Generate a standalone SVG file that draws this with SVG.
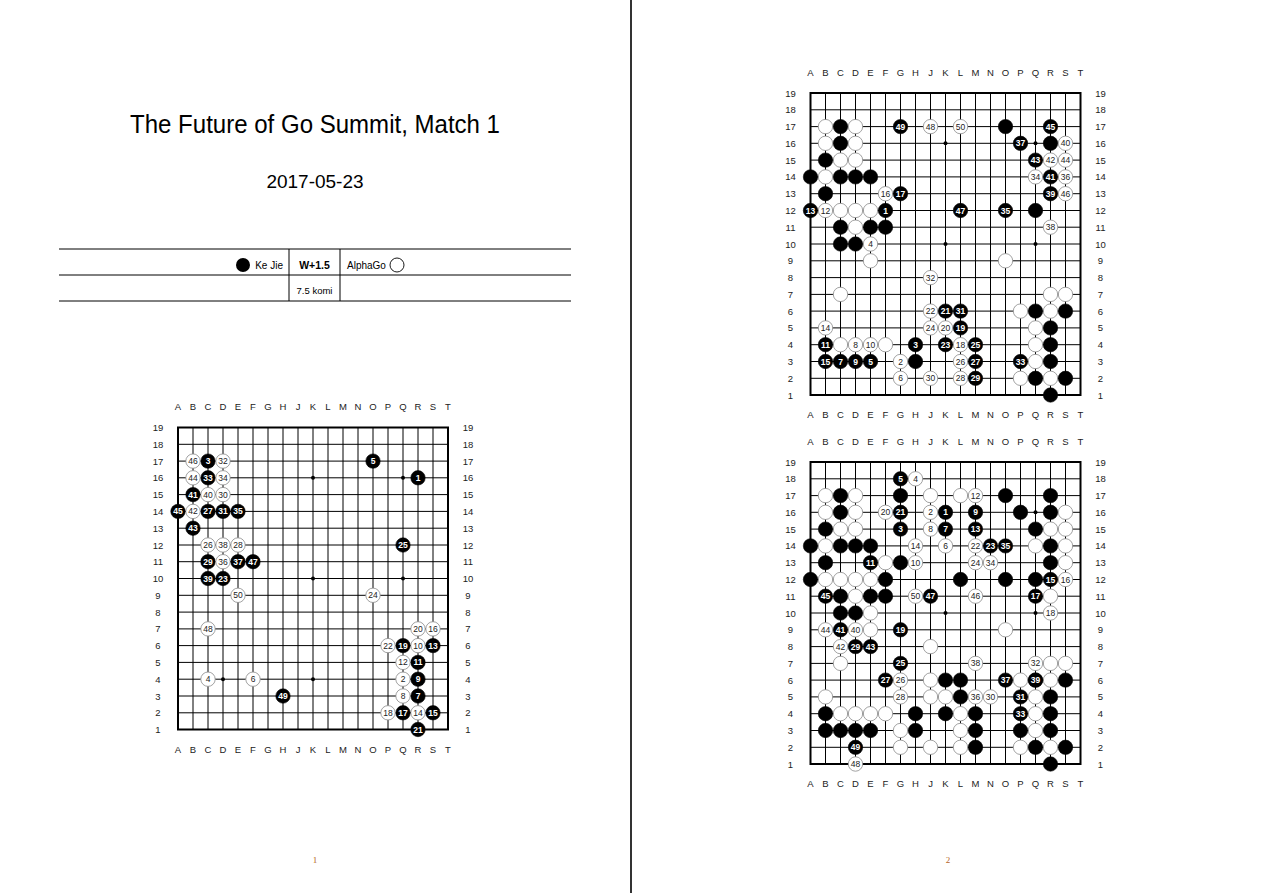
<svg xmlns="http://www.w3.org/2000/svg" xmlns:xlink="http://www.w3.org/1999/xlink" width="1265" height="893" viewBox="0 0 1265 893">
<style>
.bk{fill:#000;stroke:#000;stroke-width:0.6}
.wh{fill:#fff;stroke:#8a8a8a;stroke-width:0.8}
.gl{fill:none;stroke:#000;stroke-width:1}
.bd{fill:none;stroke:#000;stroke-width:2}
.lab{font-family:"Liberation Sans",Arial,sans-serif;font-size:9.5px;fill:#222;text-anchor:middle;dominant-baseline:central}
.nb{font-family:"Liberation Sans",Arial,sans-serif;font-size:8.5px;font-weight:bold;fill:#fff;text-anchor:middle;dominant-baseline:central}
.nw{font-family:"Liberation Sans",Arial,sans-serif;font-size:8.5px;fill:#222;text-anchor:middle;dominant-baseline:central}
.tx{font-family:"Liberation Sans",Arial,sans-serif;fill:#000}
.pg{font-family:"Liberation Serif",serif;font-size:9px;fill:#b5651d;text-anchor:middle}
</style>
<defs>
<circle id="B" r="7.2" class="bk"/>
<circle id="W" r="7.2" class="wh"/>
<g id="grid">
<path class="gl" d="M15 0V302M30 0V302M45 0V302M60 0V302M75 0V302M90 0V302M105 0V302M120 0V302M135 0V302M150 0V302M165 0V302M180 0V302M195 0V302M210 0V302M225 0V302M240 0V302M255 0V302M0 16.8H270M0 33.6H270M0 50.3H270M0 67.1H270M0 83.9H270M0 100.7H270M0 117.5H270M0 134.2H270M0 151H270M0 167.8H270M0 184.6H270M0 201.4H270M0 218.1H270M0 234.9H270M0 251.7H270M0 268.5H270M0 285.3H270"/>
<rect class="bd" x="0" y="0" width="270" height="302"/>
<g fill="#000">
<circle cx="45" cy="50.3" r="2"/><circle cx="135" cy="50.3" r="2"/><circle cx="225" cy="50.3" r="2"/>
<circle cx="45" cy="151" r="2"/><circle cx="135" cy="151" r="2"/><circle cx="225" cy="151" r="2"/>
<circle cx="45" cy="251.7" r="2"/><circle cx="135" cy="251.7" r="2"/><circle cx="225" cy="251.7" r="2"/>
</g>
<g class="lab">
<text x="0" y="-21">A</text><text x="15" y="-21">B</text><text x="30" y="-21">C</text><text x="45" y="-21">D</text><text x="60" y="-21">E</text><text x="75" y="-21">F</text><text x="90" y="-21">G</text><text x="105" y="-21">H</text><text x="120" y="-21">J</text><text x="135" y="-21">K</text><text x="150" y="-21">L</text><text x="165" y="-21">M</text><text x="180" y="-21">N</text><text x="195" y="-21">O</text><text x="210" y="-21">P</text><text x="225" y="-21">Q</text><text x="240" y="-21">R</text><text x="255" y="-21">S</text><text x="270" y="-21">T</text>
<text x="0" y="321.5">A</text><text x="15" y="321.5">B</text><text x="30" y="321.5">C</text><text x="45" y="321.5">D</text><text x="60" y="321.5">E</text><text x="75" y="321.5">F</text><text x="90" y="321.5">G</text><text x="105" y="321.5">H</text><text x="120" y="321.5">J</text><text x="135" y="321.5">K</text><text x="150" y="321.5">L</text><text x="165" y="321.5">M</text><text x="180" y="321.5">N</text><text x="195" y="321.5">O</text><text x="210" y="321.5">P</text><text x="225" y="321.5">Q</text><text x="240" y="321.5">R</text><text x="255" y="321.5">S</text><text x="270" y="321.5">T</text>
<text x="-20" y="0">19</text><text x="-20" y="16.8">18</text><text x="-20" y="33.6">17</text><text x="-20" y="50.3">16</text><text x="-20" y="67.1">15</text><text x="-20" y="83.9">14</text><text x="-20" y="100.7">13</text><text x="-20" y="117.5">12</text><text x="-20" y="134.2">11</text><text x="-20" y="151">10</text><text x="-20" y="167.8">9</text><text x="-20" y="184.6">8</text><text x="-20" y="201.4">7</text><text x="-20" y="218.1">6</text><text x="-20" y="234.9">5</text><text x="-20" y="251.7">4</text><text x="-20" y="268.5">3</text><text x="-20" y="285.3">2</text><text x="-20" y="302">1</text>
<text x="290" y="0">19</text><text x="290" y="16.8">18</text><text x="290" y="33.6">17</text><text x="290" y="50.3">16</text><text x="290" y="67.1">15</text><text x="290" y="83.9">14</text><text x="290" y="100.7">13</text><text x="290" y="117.5">12</text><text x="290" y="134.2">11</text><text x="290" y="151">10</text><text x="290" y="167.8">9</text><text x="290" y="184.6">8</text><text x="290" y="201.4">7</text><text x="290" y="218.1">6</text><text x="290" y="234.9">5</text><text x="290" y="251.7">4</text><text x="290" y="268.5">3</text><text x="290" y="285.3">2</text><text x="290" y="302">1</text>
</g>
</g>
<g id="m1">
<use href="#B" x="240" y="50.3"/><use href="#W" x="225" y="251.7"/><use href="#B" x="30" y="33.6"/><use href="#W" x="30" y="251.7"/><use href="#B" x="195" y="33.6"/><use href="#W" x="75" y="251.7"/><use href="#B" x="240" y="268.5"/><use href="#W" x="225" y="268.5"/><use href="#B" x="240" y="251.7"/><use href="#W" x="240" y="218.1"/>
<use href="#B" x="240" y="234.9"/><use href="#W" x="225" y="234.9"/><use href="#B" x="255" y="218.1"/><use href="#W" x="240" y="285.3"/><use href="#B" x="255" y="285.3"/><use href="#W" x="255" y="201.4"/><use href="#B" x="225" y="285.3"/><use href="#W" x="210" y="285.3"/><use href="#B" x="225" y="218.1"/><use href="#W" x="240" y="201.4"/>
<use href="#B" x="240" y="302"/><use href="#W" x="210" y="218.1"/><use href="#B" x="45" y="151"/><use href="#W" x="195" y="167.8"/><use href="#B" x="225" y="117.5"/><use href="#W" x="30" y="117.5"/><use href="#B" x="30" y="83.9"/><use href="#W" x="60" y="117.5"/><use href="#B" x="30" y="134.2"/><use href="#W" x="45" y="67.1"/>
<use href="#B" x="45" y="83.9"/><use href="#W" x="45" y="33.6"/><use href="#B" x="30" y="50.3"/><use href="#W" x="45" y="50.3"/><use href="#B" x="60" y="83.9"/><use href="#W" x="45" y="134.2"/><use href="#B" x="60" y="134.2"/><use href="#W" x="45" y="117.5"/><use href="#B" x="30" y="151"/><use href="#W" x="30" y="67.1"/>
<use href="#B" x="15" y="67.1"/><use href="#W" x="15" y="83.9"/><use href="#B" x="15" y="100.7"/><use href="#W" x="15" y="50.3"/><use href="#B" x="0" y="83.9"/><use href="#W" x="15" y="33.6"/><use href="#B" x="75" y="134.2"/><use href="#W" x="30" y="201.4"/><use href="#B" x="105" y="268.5"/><use href="#W" x="60" y="167.8"/>
</g>
<g id="m2">
<use href="#B" x="75" y="117.5"/><use href="#W" x="90" y="268.5"/><use href="#B" x="105" y="251.7"/><use href="#W" x="60" y="151"/><use href="#B" x="60" y="268.5"/><use href="#W" x="90" y="285.3"/><use href="#B" x="30" y="268.5"/><use href="#W" x="45" y="251.7"/><use href="#B" x="45" y="268.5"/><use href="#W" x="60" y="251.7"/>
<use href="#B" x="15" y="251.7"/><use href="#W" x="15" y="117.5"/><use href="#B" x="0" y="117.5"/><use href="#W" x="15" y="234.9"/><use href="#B" x="15" y="268.5"/><use href="#W" x="75" y="100.7"/><use href="#B" x="90" y="100.7"/><use href="#W" x="150" y="251.7"/><use href="#B" x="150" y="234.9"/><use href="#W" x="135" y="234.9"/>
<use href="#B" x="135" y="218.1"/><use href="#W" x="120" y="218.1"/><use href="#B" x="135" y="251.7"/><use href="#W" x="120" y="234.9"/><use href="#B" x="165" y="251.7"/><use href="#W" x="150" y="268.5"/><use href="#B" x="165" y="268.5"/><use href="#W" x="150" y="285.3"/><use href="#B" x="165" y="285.3"/><use href="#W" x="120" y="285.3"/>
<use href="#B" x="150" y="218.1"/><use href="#W" x="120" y="184.6"/><use href="#B" x="210" y="268.5"/><use href="#W" x="225" y="83.9"/><use href="#B" x="195" y="117.5"/><use href="#W" x="255" y="83.9"/><use href="#B" x="210" y="50.3"/><use href="#W" x="240" y="134.2"/><use href="#B" x="240" y="100.7"/><use href="#W" x="255" y="50.3"/>
<use href="#B" x="240" y="83.9"/><use href="#W" x="240" y="67.1"/><use href="#B" x="225" y="67.1"/><use href="#W" x="255" y="67.1"/><use href="#B" x="240" y="33.6"/><use href="#W" x="255" y="100.7"/><use href="#B" x="150" y="117.5"/><use href="#W" x="120" y="33.6"/><use href="#B" x="90" y="33.6"/><use href="#W" x="150" y="33.6"/>
</g>
<g id="m3">
<use href="#B" x="135" y="50.3"/><use href="#W" x="120" y="50.3"/><use href="#B" x="90" y="67.1"/><use href="#W" x="105" y="16.8"/><use href="#B" x="90" y="16.8"/><use href="#W" x="135" y="83.9"/><use href="#B" x="135" y="67.1"/><use href="#W" x="120" y="67.1"/><use href="#B" x="165" y="50.3"/><use href="#W" x="105" y="100.7"/>
<use href="#B" x="60" y="100.7"/><use href="#W" x="165" y="33.6"/><use href="#B" x="165" y="67.1"/><use href="#W" x="105" y="83.9"/><use href="#B" x="240" y="117.5"/><use href="#W" x="255" y="117.5"/><use href="#B" x="225" y="134.2"/><use href="#W" x="240" y="151"/><use href="#B" x="90" y="167.8"/><use href="#W" x="75" y="50.3"/>
<use href="#B" x="90" y="50.3"/><use href="#W" x="165" y="83.9"/><use href="#B" x="180" y="83.9"/><use href="#W" x="165" y="100.7"/><use href="#B" x="90" y="201.4"/><use href="#W" x="90" y="218.1"/><use href="#B" x="75" y="218.1"/><use href="#W" x="90" y="234.9"/><use href="#B" x="45" y="184.6"/><use href="#W" x="180" y="234.9"/>
<use href="#B" x="210" y="234.9"/><use href="#W" x="225" y="201.4"/><use href="#B" x="210" y="251.7"/><use href="#W" x="180" y="100.7"/><use href="#B" x="195" y="83.9"/><use href="#W" x="165" y="234.9"/><use href="#B" x="195" y="218.1"/><use href="#W" x="165" y="201.4"/><use href="#B" x="225" y="218.1"/><use href="#W" x="45" y="167.8"/>
<use href="#B" x="30" y="167.8"/><use href="#W" x="30" y="184.6"/><use href="#B" x="60" y="184.6"/><use href="#W" x="15" y="167.8"/><use href="#B" x="15" y="134.2"/><use href="#W" x="165" y="134.2"/><use href="#B" x="120" y="134.2"/><use href="#W" x="45" y="302"/><use href="#B" x="45" y="285.3"/><use href="#W" x="105" y="134.2"/>
</g>
</defs>

<rect x="0" y="0" width="1265" height="893" fill="#fff"/>
<line x1="631" y1="0" x2="631" y2="893" stroke="#333" stroke-width="2"/>

<g id="header">
<text class="tx" x="315" y="133" font-size="25" text-anchor="middle" textLength="370" lengthAdjust="spacingAndGlyphs">The Future of Go Summit, Match 1</text>
<text class="tx" x="315" y="188" font-size="19" text-anchor="middle">2017-05-23</text>
</g>

<g id="result-table">
<path d="M59 249H571M59 275H571M59 301H571M289 249V301M340 249V301" stroke="#000" stroke-width="1" fill="none"/>
<circle cx="243" cy="265" r="7" fill="#000"/>
<text class="tx" x="283" y="268.5" font-size="10" text-anchor="end">Ke Jie</text>
<text class="tx" x="314.5" y="268.5" font-size="10.5" font-weight="bold" text-anchor="middle">W+1.5</text>
<text class="tx" x="347" y="268.5" font-size="10">AlphaGo</text>
<circle cx="397" cy="265" r="7" fill="#fff" stroke="#000" stroke-width="0.9"/>
<text class="tx" x="314.5" y="293.5" font-size="9.5" text-anchor="middle">7.5 komi</text>
</g>

<g id="board1" transform="translate(178,427.5)">
<use href="#grid"/>
<use href="#m1"/>
<g class="nb">
<text x="240" y="50.3">1</text><text x="30" y="33.6">3</text><text x="195" y="33.6">5</text><text x="240" y="268.5">7</text><text x="240" y="251.7">9</text><text x="240" y="234.9">11</text><text x="255" y="218.1">13</text><text x="255" y="285.3">15</text><text x="225" y="285.3">17</text><text x="225" y="218.1">19</text>
<text x="240" y="302">21</text><text x="45" y="151">23</text><text x="225" y="117.5">25</text><text x="30" y="83.9">27</text><text x="30" y="134.2">29</text><text x="45" y="83.9">31</text><text x="30" y="50.3">33</text><text x="60" y="83.9">35</text><text x="60" y="134.2">37</text><text x="30" y="151">39</text>
<text x="15" y="67.1">41</text><text x="15" y="100.7">43</text><text x="0" y="83.9">45</text><text x="75" y="134.2">47</text><text x="105" y="268.5">49</text>
</g>
<g class="nw">
<text x="225" y="251.7">2</text><text x="30" y="251.7">4</text><text x="75" y="251.7">6</text><text x="225" y="268.5">8</text><text x="240" y="218.1">10</text><text x="225" y="234.9">12</text><text x="240" y="285.3">14</text><text x="255" y="201.4">16</text><text x="210" y="285.3">18</text><text x="240" y="201.4">20</text>
<text x="210" y="218.1">22</text><text x="195" y="167.8">24</text><text x="30" y="117.5">26</text><text x="60" y="117.5">28</text><text x="45" y="67.1">30</text><text x="45" y="33.6">32</text><text x="45" y="50.3">34</text><text x="45" y="134.2">36</text><text x="45" y="117.5">38</text><text x="30" y="67.1">40</text>
<text x="15" y="83.9">42</text><text x="15" y="50.3">44</text><text x="15" y="33.6">46</text><text x="30" y="201.4">48</text><text x="60" y="167.8">50</text>
</g>
</g>

<g id="board2" transform="translate(810.5,93)">
<use href="#grid"/>
<use href="#m1"/>
<use href="#m2"/>
<g class="nb">
<text x="75" y="117.5">1</text><text x="105" y="251.7">3</text><text x="60" y="268.5">5</text><text x="30" y="268.5">7</text><text x="45" y="268.5">9</text><text x="15" y="251.7">11</text><text x="0" y="117.5">13</text><text x="15" y="268.5">15</text><text x="90" y="100.7">17</text><text x="150" y="234.9">19</text>
<text x="135" y="218.1">21</text><text x="135" y="251.7">23</text><text x="165" y="251.7">25</text><text x="165" y="268.5">27</text><text x="165" y="285.3">29</text><text x="150" y="218.1">31</text><text x="210" y="268.5">33</text><text x="195" y="117.5">35</text><text x="210" y="50.3">37</text><text x="240" y="100.7">39</text>
<text x="240" y="83.9">41</text><text x="225" y="67.1">43</text><text x="240" y="33.6">45</text><text x="150" y="117.5">47</text><text x="90" y="33.6">49</text>
</g>
<g class="nw">
<text x="90" y="268.5">2</text><text x="60" y="151">4</text><text x="90" y="285.3">6</text><text x="45" y="251.7">8</text><text x="60" y="251.7">10</text><text x="15" y="117.5">12</text><text x="15" y="234.9">14</text><text x="75" y="100.7">16</text><text x="150" y="251.7">18</text><text x="135" y="234.9">20</text>
<text x="120" y="218.1">22</text><text x="120" y="234.9">24</text><text x="150" y="268.5">26</text><text x="150" y="285.3">28</text><text x="120" y="285.3">30</text><text x="120" y="184.6">32</text><text x="225" y="83.9">34</text><text x="255" y="83.9">36</text><text x="240" y="134.2">38</text><text x="255" y="50.3">40</text>
<text x="240" y="67.1">42</text><text x="255" y="67.1">44</text><text x="255" y="100.7">46</text><text x="120" y="33.6">48</text><text x="150" y="33.6">50</text>
</g>
</g>

<g id="board3" transform="translate(810.5,462)">
<use href="#grid"/>
<use href="#m1"/>
<use href="#m2"/>
<use href="#m3"/>
<g class="nb">
<text x="135" y="50.3">1</text><text x="90" y="67.1">3</text><text x="90" y="16.8">5</text><text x="135" y="67.1">7</text><text x="165" y="50.3">9</text><text x="60" y="100.7">11</text><text x="165" y="67.1">13</text><text x="240" y="117.5">15</text><text x="225" y="134.2">17</text><text x="90" y="167.8">19</text>
<text x="90" y="50.3">21</text><text x="180" y="83.9">23</text><text x="90" y="201.4">25</text><text x="75" y="218.1">27</text><text x="45" y="184.6">29</text><text x="210" y="234.9">31</text><text x="210" y="251.7">33</text><text x="195" y="83.9">35</text><text x="195" y="218.1">37</text><text x="225" y="218.1">39</text>
<text x="30" y="167.8">41</text><text x="60" y="184.6">43</text><text x="15" y="134.2">45</text><text x="120" y="134.2">47</text><text x="45" y="285.3">49</text>
</g>
<g class="nw">
<text x="120" y="50.3">2</text><text x="105" y="16.8">4</text><text x="135" y="83.9">6</text><text x="120" y="67.1">8</text><text x="105" y="100.7">10</text><text x="165" y="33.6">12</text><text x="105" y="83.9">14</text><text x="255" y="117.5">16</text><text x="240" y="151">18</text><text x="75" y="50.3">20</text>
<text x="165" y="83.9">22</text><text x="165" y="100.7">24</text><text x="90" y="218.1">26</text><text x="90" y="234.9">28</text><text x="180" y="234.9">30</text><text x="225" y="201.4">32</text><text x="180" y="100.7">34</text><text x="165" y="234.9">36</text><text x="165" y="201.4">38</text><text x="45" y="167.8">40</text>
<text x="30" y="184.6">42</text><text x="15" y="167.8">44</text><text x="165" y="134.2">46</text><text x="45" y="302">48</text><text x="105" y="134.2">50</text>
</g>
</g>

<g id="page-numbers">
<text class="pg" x="315" y="863">1</text>
<text class="pg" x="948" y="863">2</text>
</g>
</svg>
